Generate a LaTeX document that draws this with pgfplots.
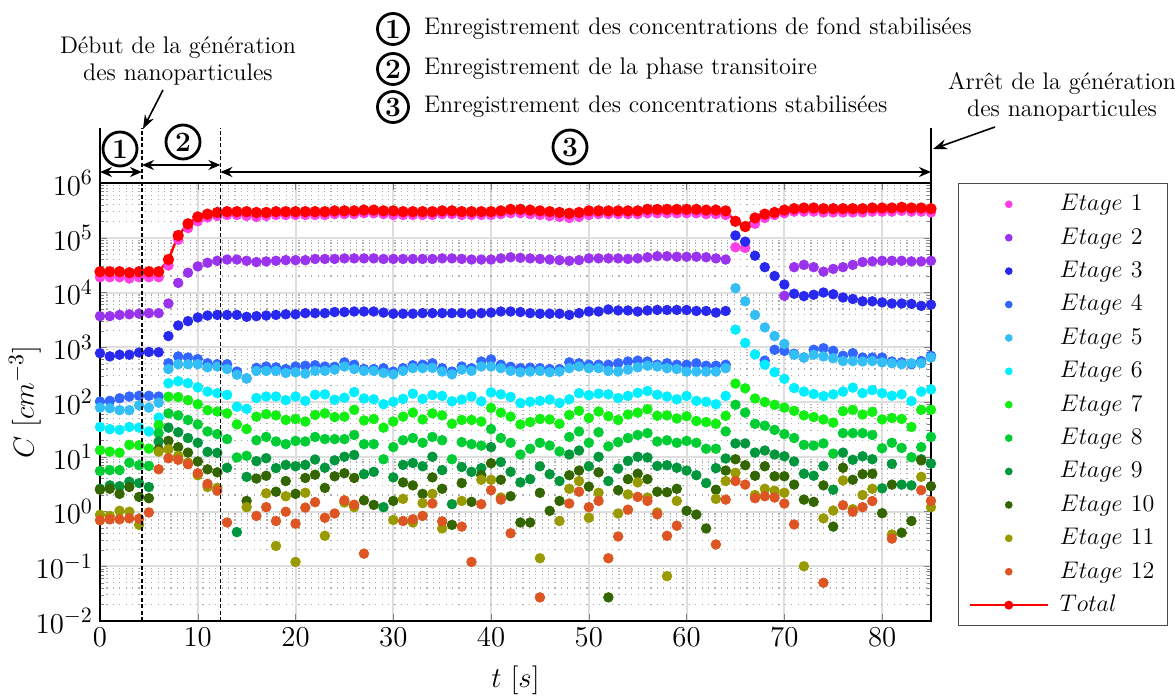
\documentclass[border=0pt]{standalone}
\usepackage{pgfplots}
\pgfplotsset{compat=1.18}
\usetikzlibrary{arrows.meta}
\definecolor{c1}{RGB}{255,64,230}
\definecolor{c2}{RGB}{153,51,238}
\definecolor{c3}{RGB}{40,40,238}
\definecolor{c4}{RGB}{51,102,255}
\definecolor{c5}{RGB}{51,190,245}
\definecolor{c6}{RGB}{0,238,255}
\definecolor{c7}{RGB}{17,238,17}
\definecolor{c8}{RGB}{0,204,51}
\definecolor{c9}{RGB}{0,150,60}
\definecolor{c10}{RGB}{51,102,0}
\definecolor{c11}{RGB}{153,153,0}
\definecolor{c12}{RGB}{221,85,34}
\definecolor{gridmaj}{RGB}{222,222,222}
\tikzset{circnum/.style={circle, draw, line width=1.4pt, inner sep=0pt, minimum size=#1, font=\fontsize{14}{14}\selectfont\bfseries},
  circnum/.default=17pt}
\pgfplotsset{etage/.style={#1, only marks, mark=*, mark size=2.4pt}}
\begin{document}
\begin{tikzpicture}
\path[use as bounding box] (-50pt,-38pt) rectangle (537.5pt,310.5pt);
\begin{axis}[
  at={(0,0)}, anchor=south west,
  scale only axis, width=415.5pt, height=219pt,
  xmin=0, xmax=85, ymin=1e-2, ymax=1e6, ymode=log, log basis y=10,
  xtick={0,10,...,80},
  ytick={1e-2,1e-1,1,1e1,1e2,1e3,1e4,1e5,1e6},
  minor ytick={2e-2,3e-2,4e-2,5e-2,6e-2,7e-2,8e-2,9e-2,0.2,0.3,0.4,0.5,0.6,0.7,0.8,0.9,2,3,4,5,6,7,8,9,20,30,40,50,60,70,80,90,200,300,400,500,600,700,800,900,2e3,3e3,4e3,5e3,6e3,7e3,8e3,9e3,2e4,3e4,4e4,5e4,6e4,7e4,8e4,9e4,2e5,3e5,4e5,5e5,6e5,7e5,8e5,9e5},
  tick align=inside, major tick length=3.5pt, minor tick length=2pt,
  ymajorgrids, yminorgrids, xmajorgrids,
  major grid style={gridmaj, line width=1pt},
  minor grid style={black!32, line width=0.6pt, dash pattern=on 0.6pt off 2.6pt},
  axis line style={line width=1pt},
  ticklabel style={font=\fontsize{15}{15}\selectfont},
  xlabel={$t\ [s]$}, ylabel={$C\ [cm^{-3}]$},
  label style={font=\fontsize{15}{15}\selectfont},
  xlabel style={at={(axis description cs:0.5,-0.1347)}, anchor=center},
  ylabel style={at={(axis description cs:-0.0903,0.5)}, anchor=center},
  legend cell align=left,
  legend style={at={(1.0325,1.0)}, anchor=north west, draw=black!70, line width=0.6pt,
    font=\fontsize{12.5}{14}\selectfont, inner xsep=5pt, inner ysep=2pt,
    nodes={inner sep=1.5pt, text height=10pt, text depth=3.7pt},
    /tikz/every odd column/.append style={column sep=4pt}},
  legend image code/.code={\draw[mark repeat=2,mark phase=2,#1] plot coordinates {(0pt,0pt) (19.5pt,0pt) (39pt,0pt)};},
  legend image post style={mark size=1.6pt},
]
% Etage 1
\addplot[etage=c1] coordinates {(0,1.9e4)(1,1.9e4)(2,1.9e4)(3,1.8e4)(4,1.9e4)(5,1.9e4)(6,1.9e4)(7,3.1e4)(8,9.2e4)(9,1.5e5)(10,2.0e5)(11,2.35e5)(12,2.5e5)(13,2.6e5)(14,2.6e5)(15,2.5e5)(16,2.4e5)(17,2.5e5)(18,2.6e5)(19,2.6e5)(20,2.6e5)(21,2.6e5)(22,2.6e5)(23,2.6e5)(24,2.7e5)(25,2.7e5)(26,2.7e5)(27,2.8e5)(28,2.8e5)(29,2.7e5)(30,2.6e5)(31,2.6e5)(32,2.6e5)(33,2.6e5)(34,2.6e5)(35,2.7e5)(36,2.7e5)(37,2.6e5)(38,2.6e5)(39,2.6e5)(40,2.6e5)(41,2.7e5)(42,2.8e5)(43,2.8e5)(44,2.7e5)(45,2.6e5)(46,2.5e5)(47,2.4e5)(48,2.3e5)(49,2.4e5)(50,2.6e5)(51,2.7e5)(52,2.7e5)(53,2.7e5)(54,2.7e5)(55,2.7e5)(56,2.8e5)(57,2.8e5)(58,2.8e5)(59,2.8e5)(60,2.8e5)(61,2.8e5)(62,2.7e5)(63,2.7e5)(64,2.6e5)(65,6.7e4)(66,6.5e4)(67,1.8e5)(68,2.3e5)(69,2.6e5)(70,2.8e5)(71,3.0e5)(72,3.0e5)(73,3.0e5)(74,2.9e5)(75,2.9e5)(76,2.9e5)(77,2.9e5)(78,2.9e5)(79,3.0e5)(80,3.0e5)(81,3.0e5)(82,3.1e5)(83,3.0e5)(84,3.0e5)(85,2.9e5)};
\addlegendentry{$Etage\ 1$}
% Etage 2
\addplot[etage=c2] coordinates {(0,3.7e3)(1,3.7e3)(2,3.9e3)(3,4.0e3)(4,4.1e3)(5,4.2e3)(6,4.2e3)(7,6.3e3)(8,1.5e4)(9,2.3e4)(10,3.0e4)(11,3.5e4)(12,3.8e4)(13,4.0e4)(14,4.0e4)(15,3.8e4)(16,3.6e4)(17,3.7e4)(18,3.8e4)(19,3.9e4)(20,3.9e4)(21,3.9e4)(22,4.1e4)(23,4.1e4)(24,4.1e4)(25,4.2e4)(26,4.2e4)(27,4.2e4)(28,4.2e4)(29,4.1e4)(30,4.1e4)(31,4.1e4)(32,4.1e4)(33,4.1e4)(34,4.1e4)(35,4.2e4)(36,4.2e4)(37,4.1e4)(38,4.0e4)(39,4.0e4)(40,4.0e4)(41,4.2e4)(42,4.4e4)(43,4.3e4)(44,4.2e4)(45,4.1e4)(46,4.0e4)(47,3.9e4)(48,3.8e4)(49,3.9e4)(50,4.2e4)(51,4.2e4)(52,4.2e4)(53,4.2e4)(54,4.1e4)(55,4.2e4)(56,4.4e4)(57,4.6e4)(58,4.6e4)(59,4.5e4)(60,4.5e4)(61,4.5e4)(62,4.4e4)(63,4.2e4)(64,4.0e4)(70,8.7e3)(71,2.9e4)(72,3.2e4)(73,2.9e4)(74,2.4e4)(75,2.7e4)(76,2.9e4)(77,3.2e4)(78,3.6e4)(79,3.7e4)(80,3.8e4)(81,3.8e4)(82,3.8e4)(83,3.7e4)(84,3.7e4)(85,3.8e4)};
\addlegendentry{$Etage\ 2$}
% Etage 3
\addplot[etage=c3] coordinates {(0,780)(1,680)(2,730)(3,730)(4,800)(5,820)(6,810)(7,1.6e3)(8,2.5e3)(9,3.0e3)(10,3.5e3)(11,3.8e3)(12,3.9e3)(13,3.9e3)(14,3.9e3)(15,3.6e3)(16,3.7e3)(17,3.8e3)(18,3.9e3)(19,4.0e3)(20,4.0e3)(21,4.2e3)(22,4.2e3)(23,4.2e3)(24,4.4e3)(25,4.4e3)(26,4.5e3)(27,4.5e3)(28,4.5e3)(29,4.3e3)(30,4.1e3)(31,4.1e3)(32,4.1e3)(33,4.2e3)(34,4.2e3)(35,4.2e3)(36,4.2e3)(37,4.2e3)(38,4.1e3)(39,4.2e3)(40,4.3e3)(41,4.5e3)(42,4.5e3)(43,4.4e3)(44,4.2e3)(45,4.1e3)(46,4.1e3)(47,4.1e3)(48,3.9e3)(49,4.2e3)(50,4.5e3)(51,4.5e3)(52,4.9e3)(53,4.7e3)(54,4.7e3)(55,4.5e3)(56,4.7e3)(57,4.8e3)(58,4.8e3)(59,4.8e3)(60,4.8e3)(61,4.6e3)(62,4.6e3)(63,4.3e3)(64,4.6e3)(65,1.1e5)(66,8.5e4)(67,4.7e4)(68,2.9e4)(69,2.0e4)(70,1.4e4)(71,9.5e3)(72,8.6e3)(73,9.1e3)(74,1.0e4)(75,9.3e3)(76,8.1e3)(77,7.6e3)(78,6.9e3)(79,6.9e3)(80,6.6e3)(81,6.3e3)(82,6.3e3)(83,6.2e3)(84,5.7e3)(85,6.0e3)};
\addlegendentry{$Etage\ 3$}
% Etage 4
\addplot[etage=c4] coordinates {(0,102)(1,105)(2,117)(3,126)(4,130)(5,130)(6,126)(7,510)(8,680)(9,650)(10,610)(11,510)(12,490)(13,490)(14,360)(15,270)(16,420)(17,445)(18,430)(19,400)(20,445)(21,460)(22,470)(23,445)(24,440)(25,530)(26,480)(27,400)(28,400)(29,415)(30,360)(31,415)(32,470)(33,480)(34,510)(35,415)(36,360)(37,445)(38,415)(39,550)(40,600)(41,480)(42,440)(43,415)(44,425)(45,415)(46,400)(47,400)(48,530)(49,510)(50,480)(51,480)(52,480)(53,510)(54,550)(55,570)(56,550)(57,480)(58,510)(59,480)(60,480)(61,510)(62,460)(63,460)(64,480)(68,570)(69,900)(70,860)(71,760)(72,650)(73,900)(74,960)(75,860)(76,700)(77,780)(78,650)(79,650)(80,650)(81,550)(82,530)(83,490)(84,560)(85,700)};
\addlegendentry{$Etage\ 4$}
% Etage 5
\addplot[etage=c5] coordinates {(0,79)(1,77)(2,71)(3,71)(4,87)(5,79)(6,97)(7,400)(8,490)(9,490)(10,490)(11,430)(12,445)(13,400)(14,315)(15,270)(16,370)(17,370)(18,370)(19,340)(20,350)(21,330)(22,370)(23,370)(24,390)(25,445)(26,400)(27,370)(28,370)(29,340)(30,320)(31,370)(32,415)(33,415)(34,420)(35,360)(36,320)(37,390)(38,370)(39,445)(40,445)(41,415)(42,370)(43,350)(44,360)(45,370)(46,350)(47,360)(48,415)(49,445)(50,415)(51,415)(52,370)(53,360)(54,390)(55,430)(56,460)(57,445)(58,415)(59,400)(60,360)(61,360)(62,360)(63,360)(64,415)(65,1.2e4)(66,6.9e3)(67,3.9e3)(68,2.3e3)(69,1.6e3)(70,1.15e3)(71,730)(72,650)(73,730)(74,680)(75,630)(76,560)(77,560)(78,550)(79,560)(80,530)(81,510)(82,490)(83,510)(84,510)(85,650)};
\addlegendentry{$Etage\ 5$}
% Etage 6
\addplot[etage=c6] coordinates {(0,35)(1,32)(2,31)(3,35)(4,34)(5,29)(6,52)(7,220)(8,240)(9,220)(10,185)(11,155)(12,145)(13,135)(14,82)(15,75)(16,118)(17,126)(18,126)(19,108)(20,126)(21,105)(22,136)(23,138)(24,110)(25,120)(26,152)(27,116)(28,112)(29,91)(30,101)(31,114)(32,142)(33,114)(34,134)(35,129)(36,103)(37,111)(38,126)(39,103)(40,150)(41,138)(42,124)(43,96)(44,101)(45,105)(46,111)(47,96)(48,112)(49,145)(50,133)(51,142)(52,138)(53,118)(54,129)(55,147)(56,159)(57,136)(58,126)(59,112)(60,129)(61,105)(62,101)(63,91)(64,129)(65,2.1e3)(66,1.2e3)(67,740)(68,480)(69,350)(70,265)(71,180)(72,155)(73,140)(74,128)(75,138)(76,155)(77,183)(78,145)(79,165)(80,145)(81,130)(82,138)(83,104)(84,155)(85,170)};
\addlegendentry{$Etage\ 6$}
% Etage 7
\addplot[etage=c7] coordinates {(0,13.2)(1,12.4)(2,11.9)(3,16.5)(4,16.2)(5,14.1)(6,38)(7,125)(8,123)(9,108)(10,91)(11,71)(12,67)(13,62)(14,39)(15,32)(16,54)(17,60)(18,57)(19,47)(20,49)(21,44)(22,58)(23,62)(24,53)(25,54)(26,72)(27,46)(28,49)(29,34)(30,44)(31,54)(32,64)(33,48)(34,62)(35,57)(36,40)(37,47)(38,47)(39,44)(40,78)(41,64)(42,54)(43,39)(44,43)(45,49)(46,48)(47,40)(48,58)(49,69)(50,51)(51,67)(52,55)(53,47)(54,59)(55,64)(56,74)(57,56)(58,57)(59,50)(60,55)(61,45)(62,43)(63,40)(64,56)(65,217)(66,178)(67,116)(68,100)(69,89)(70,79)(71,69)(72,57)(73,53)(74,48)(75,42)(76,68)(77,72)(78,59)(79,66)(80,48)(81,51)(82,49)(83,35)(84,72)(85,72)};
\addlegendentry{$Etage\ 7$}
% Etage 8
\addplot[etage=c8] coordinates {(0,5.5)(1,5.7)(2,5.7)(3,7.8)(4,7.0)(5,6.8)(6,27)(7,62)(8,57)(9,47)(10,39)(11,29)(12,26)(13,21)(14,9.7)(15,10.4)(16,20)(17,23)(18,19)(19,17)(20,19.5)(21,19)(22,23)(23,21)(24,21)(25,21)(26,25)(27,17)(28,17)(29,9.0)(30,15)(31,20)(32,22)(33,18)(34,23)(35,20)(36,9.0)(37,18.5)(38,17)(39,16)(40,32)(41,22)(42,18)(43,11)(44,14)(45,18)(46,16)(47,12.5)(48,23)(49,29)(50,18)(51,28)(52,15.5)(53,18.5)(54,22)(55,25)(56,27)(57,19)(58,20)(59,18)(60,19.5)(61,18)(62,14)(63,14)(64,29)(65,89)(66,64)(67,40)(68,37)(69,31)(70,26)(71,22)(72,16.5)(73,16)(74,17.5)(75,11.4)(76,27)(77,27)(78,27)(79,25)(80,14.3)(81,18)(82,14.5)(83,9.8)(84,15)(85,23)};
\addlegendentry{$Etage\ 8$}
% Etage 9
\addplot[etage=c9] coordinates {(0,2.6)(1,3.0)(2,2.9)(3,3.5)(4,3.3)(5,2.8)(6,19)(7,34)(8,28)(9,22)(10,18)(11,12.3)(12,11.8)(13,6.3)(14,0.42)(15,4.3)(16,8.3)(17,9.4)(18,6.2)(19,7.1)(20,6.7)(21,7.1)(22,8.9)(23,6.3)(24,8.6)(25,10)(26,10.8)(27,4.8)(28,5.3)(29,1.2)(30,4.2)(31,7.1)(32,7.7)(33,6.7)(34,10)(35,5.7)(36,1.36)(37,6.5)(38,5.3)(39,6.2)(40,15)(41,8.0)(42,5.3)(43,3.4)(44,3.9)(45,6.7)(46,4.8)(47,3.6)(48,11)(49,13)(50,6.7)(51,10)(52,3.6)(53,6.1)(54,8.4)(55,10)(56,9.7)(57,6.8)(58,7.0)(59,6.3)(60,5.6)(61,4.6)(62,3.3)(63,6.2)(64,9.3)(65,17.5)(66,17.5)(67,11.9)(68,13)(69,11)(70,10.2)(71,8.2)(72,4.9)(73,4.5)(74,6.8)(75,2.5)(76,11.9)(77,8.8)(78,10.2)(79,9.0)(80,2.65)(81,7.4)(82,3.1)(83,3.0)(84,9.0)(85,7.5)};
\addlegendentry{$Etage\ 9$}
% Etage 10
\addplot[etage=c10] coordinates {(0,2.5)(1,2.6)(2,2.1)(3,2.8)(4,1.85)(5,1.75)(6,13.7)(7,19.5)(8,15)(9,11.9)(10,8.2)(11,5.9)(12,5.2)(15,1.56)(16,4.0)(17,4.5)(18,2.3)(19,3.6)(20,2.1)(21,4.1)(22,4.7)(23,2.7)(24,4.4)(25,5.0)(26,4.1)(27,1.6)(28,1.32)(30,1.56)(31,3.4)(32,3.0)(33,2.1)(34,4.2)(35,2.6)(36,0.57)(37,3.3)(38,1.5)(39,4.6)(40,7.6)(41,3.8)(42,1.9)(43,0.63)(44,0.63)(45,2.2)(46,1.03)(47,1.56)(48,4.6)(49,5.6)(50,2.85)(51,5.2)(52,0.027)(53,2.45)(54,3.9)(55,4.9)(56,3.9)(57,2.3)(58,2.25)(59,2.6)(60,1.03)(61,0.88)(62,0.49)(63,2.5)(64,5.6)(65,9.0)(66,7.0)(67,4.5)(68,6.7)(69,4.4)(70,4.4)(71,3.1)(72,1.65)(73,1.5)(74,3.0)(75,0.53)(76,6.3)(77,3.8)(78,4.8)(79,4.9)(80,0.93)(81,3.1)(82,0.41)(83,0.67)(84,8.6)(85,2.9)};
\addlegendentry{$Etage\ 10$}
% Etage 11
\addplot[etage=c11] coordinates {(0,0.87)(1,0.83)(2,1.03)(3,0.99)(4,0.57)(6,12.4)(7,13.7)(8,10.4)(9,7.8)(10,4.6)(11,2.8)(12,2.7)(15,1.2)(17,2.15)(18,0.235)(19,1.9)(20,0.12)(21,2.2)(23,0.36)(25,1.46)(26,1.2)(30,0.70)(31,1.7)(32,0.63)(33,1.42)(34,2.1)(35,0.49)(37,1.56)(39,3.8)(40,3.8)(41,1.8)(45,0.14)(47,0.67)(48,2.6)(49,3.6)(50,0.77)(51,2.2)(53,0.92)(54,2.05)(55,3.4)(56,1.8)(57,0.96)(58,0.066)(59,1.56)(63,1.7)(64,3.6)(65,5.1)(67,2.0)(68,2.6)(69,2.4)(70,2.2)(72,0.10)(74,0.75)(75,1.04)(76,3.7)(77,1.1)(78,2.0)(79,2.6)(81,0.38)(84,4.3)(85,1.2)};
\addlegendentry{$Etage\ 11$}
% Etage 12
\addplot[etage=c12] coordinates {(0,0.69)(1,0.72)(2,0.72)(3,0.75)(4,0.74)(5,0.96)(6,5.9)(7,9.4)(8,8.8)(9,7.3)(10,5.0)(11,3.2)(12,2.4)(13,0.63)(16,0.83)(17,1.2)(18,0.67)(19,0.99)(20,0.60)(21,1.18)(22,1.48)(23,0.77)(24,0.92)(25,1.6)(26,1.33)(27,0.17)(31,0.67)(32,0.72)(33,0.83)(34,1.4)(35,0.66)(37,0.53)(38,0.12)(39,1.36)(40,2.45)(41,1.65)(42,0.40)(45,0.027)(48,1.4)(49,2.3)(50,1.2)(51,1.56)(52,0.14)(53,0.35)(54,1.08)(55,1.85)(56,1.56)(57,0.89)(58,0.36)(59,0.55)(63,0.25)(64,1.65)(65,3.6)(66,3.1)(67,1.75)(68,1.9)(69,1.8)(70,1.4)(71,0.58)(74,0.05)(76,1.3)(77,0.99)(78,1.2)(79,1.55)(81,0.32)(84,2.45)(85,1.56)};
\addlegendentry{$Etage\ 12$}
% Total
\addplot[red, line width=1.2pt, mark=*, mark size=2.2pt] coordinates {(0,2.4e4)(1,2.4e4)(2,2.4e4)(3,2.3e4)(4,2.4e4)(5,2.4e4)(6,2.4e4)(7,4.0e4)(8,1.1e5)(9,1.8e5)(10,2.4e5)(11,2.7e5)(12,2.9e5)(13,3.0e5)(14,3.0e5)(15,3.0e5)(16,2.9e5)(17,2.9e5)(18,3.0e5)(19,3.0e5)(20,3.0e5)(21,3.0e5)(22,3.0e5)(23,3.0e5)(24,3.1e5)(25,3.1e5)(26,3.1e5)(27,3.2e5)(28,3.2e5)(29,3.1e5)(30,3.1e5)(31,3.0e5)(32,3.0e5)(33,3.0e5)(34,3.0e5)(35,3.1e5)(36,3.1e5)(37,3.0e5)(38,3.0e5)(39,3.0e5)(40,3.0e5)(41,3.1e5)(42,3.3e5)(43,3.3e5)(44,3.2e5)(45,3.1e5)(46,3.0e5)(47,2.9e5)(48,2.8e5)(49,2.9e5)(50,3.1e5)(51,3.1e5)(52,3.1e5)(53,3.1e5)(54,3.1e5)(55,3.1e5)(56,3.3e5)(57,3.3e5)(58,3.3e5)(59,3.3e5)(60,3.3e5)(61,3.3e5)(62,3.2e5)(63,3.2e5)(64,3.1e5)(65,2.0e5)(66,1.6e5)(67,2.3e5)(68,2.7e5)(69,2.9e5)(70,3.2e5)(71,3.4e5)(72,3.5e5)(73,3.5e5)(74,3.4e5)(75,3.4e5)(76,3.4e5)(77,3.4e5)(78,3.4e5)(79,3.5e5)(80,3.5e5)(81,3.5e5)(82,3.6e5)(83,3.5e5)(84,3.5e5)(85,3.4e5)};
\addlegendentry{$Total$}
\end{axis}
% annotations (1px = 0.5pt, origin at lower left of the axis)
\draw[line width=1pt] (0,219pt) -- (0,246.5pt);
\draw[line width=1pt] (415.5pt,219pt) -- (415.5pt,246.5pt);
\draw[line width=0.8pt, dash pattern=on 2pt off 1.2pt] (21pt,0) -- (21pt,246.5pt);
\draw[line width=0.8pt, dash pattern=on 2pt off 1.2pt] (60.2pt,0) -- (60.2pt,246.5pt);
\draw[{Stealth[length=6pt,width=5pt]}-{Stealth[length=6pt,width=5pt]}, line width=1pt] (0,224.5pt) -- (21pt,224.5pt);
\draw[{Stealth[length=6pt,width=5pt]}-{Stealth[length=6pt,width=5pt]}, line width=1pt] (21pt,228pt) -- (60.2pt,228pt);
\draw[{Stealth[length=6pt,width=5pt]}-{Stealth[length=6pt,width=5pt]}, line width=1pt] (60.2pt,224.5pt) -- (415.5pt,224.5pt);
\node[circnum] at (10pt,236pt) {1};
\node[circnum] at (41.5pt,239.5pt) {2};
\node[circnum] at (235pt,237pt) {3};
\node[circnum=15.5pt] at (146.5pt,296pt) {1};
\node[circnum=15.5pt] at (146.5pt,276pt) {2};
\node[circnum=15.5pt] at (146.5pt,257pt) {3};
\begin{scope}[every node/.style={font=\fontsize{12}{13.5}\selectfont}]
\node[anchor=west] at (158.5pt,296pt) {Enregistrement des concentrations de fond stabilisées};
\node[anchor=west] at (158.5pt,276pt) {Enregistrement de la phase transitoire};
\node[anchor=west] at (158.5pt,257pt) {Enregistrement des concentrations stabilisées};
\node[align=center] at (39pt,280pt) {Début de la génération\\des nanoparticules};
\node[align=center] at (481pt,262pt) {Arrêt de la génération\\des nanoparticules};
\end{scope}
\draw[-{Stealth[length=7pt,width=5pt]}, line width=0.8pt] (31.5pt,265.5pt) -- (21.5pt,246pt);
\draw[-{Stealth[length=7pt,width=5pt]}, line width=0.8pt] (447.5pt,247pt) -- (416.5pt,236pt);
\end{tikzpicture}
\end{document}
